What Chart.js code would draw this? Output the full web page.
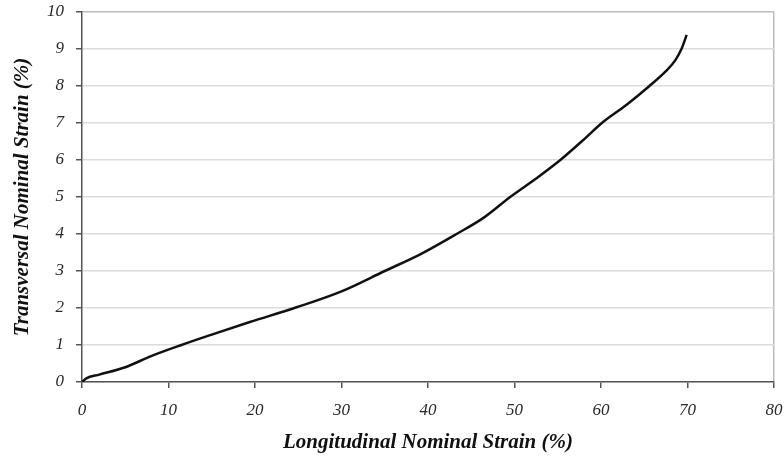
<!DOCTYPE html>
<html>
<head>
<meta charset="utf-8">
<script src="https://cdn.jsdelivr.net/npm/chart.js@4"></script>
<style>
  html, body { margin: 0; padding: 0; background: #fff; }
  #wrap { width: 784px; height: 459px; }
</style>
</head>
<body>
<div id="wrap"><canvas id="strainChart" width="784" height="459"></canvas></div>
<script>
// (longitudinal %, transversal %)
let longStrain = [0, 0.5, 2, 5, 8, 11.5, 15, 19.4, 24.8, 30, 35, 39.1, 43.3, 46.5, 49.5, 52.5, 55.3, 58, 60.1, 63, 65.6, 67.5, 68.6, 69.3, 69.9];
let transStrain = [0, 0.1, 0.2, 0.4, 0.7, 1.0, 1.28, 1.62, 2.02, 2.45, 3.0, 3.45, 4.0, 4.45, 5.0, 5.5, 6.0, 6.55, 7.0, 7.5, 8.0, 8.4, 8.7, 9.0, 9.38];
let xTicks = [0, 10, 20, 30, 40, 50, 60, 70, 80];
let yTicks = [0, 1, 2, 3, 4, 5, 6, 7, 8, 9, 10];

document.addEventListener("DOMContentLoaded", function() {
    renderChart();
});

function renderChart() {
    const ctx = document.getElementById('strainChart').getContext('2d');
    const points = longStrain.map((x, i) => ({ x: x, y: transStrain[i] }));
    const tickFont = { family: "'Liberation Serif', 'Times New Roman', serif", size: 17, style: 'italic' };
    const titleFont = { family: "'Liberation Serif', 'Times New Roman', serif", size: 21, style: 'italic', weight: 'bold' };

    new Chart(ctx, {
        type: 'line',
        data: {
            datasets: [{
                data: points,
                borderColor: '#111',
                borderWidth: 2.5,
                pointRadius: 0,
                fill: false,
                cubicInterpolationMode: 'monotone'
            }]
        },
        options: {
            responsive: false,
            animation: false,
            layout: { padding: { top: 12, right: 10, left: 0, bottom: 0 } },
            plugins: { legend: { display: false }, tooltip: { enabled: false } },
            scales: {
                x: {
                    type: 'linear',
                    min: 0,
                    max: 80,
                    afterBuildTicks: s => { s.ticks = xTicks.map(v => ({ value: v })); },
                    afterFit: s => { s.height = 77; s.paddingRight = 0; s.paddingLeft = 0; },
                    border: { color: '#555', width: 1.5 },
                    grid: {
                        color: c => (c.tick && c.tick.value === 80) ? '#bbb' : 'rgba(0,0,0,0)',
                        tickColor: '#555',
                        tickLength: 6,
                        lineWidth: 1.5
                    },
                    ticks: { color: '#2a2a2a', font: tickFont, padding: 12, maxRotation: 0 },
                    title: {
                        display: true,
                        text: 'Longitudinal Nominal Strain (%)',
                        color: '#111',
                        font: titleFont,
                        padding: { top: 4, bottom: 4 }
                    }
                },
                y: {
                    type: 'linear',
                    min: 0,
                    max: 10,
                    afterBuildTicks: s => { s.ticks = yTicks.map(v => ({ value: v })); },
                    afterFit: s => { s.width = 82; s.paddingTop = 0; s.paddingBottom = 0; },
                    border: { color: '#555', width: 1.5 },
                    grid: {
                        color: c => (c.tick && c.tick.value === 10) ? '#bbb' : '#dcdcdc',
                        tickColor: '#555',
                        tickLength: 6,
                        lineWidth: 1.5
                    },
                    ticks: { color: '#2a2a2a', font: tickFont, padding: 12 },
                    title: {
                        display: true,
                        text: 'Transversal Nominal Strain (%)',
                        color: '#111',
                        font: titleFont,
                        padding: { top: 10, bottom: 4 }
                    }
                }
            }
        }
    });
}
</script>
</body>
</html>
